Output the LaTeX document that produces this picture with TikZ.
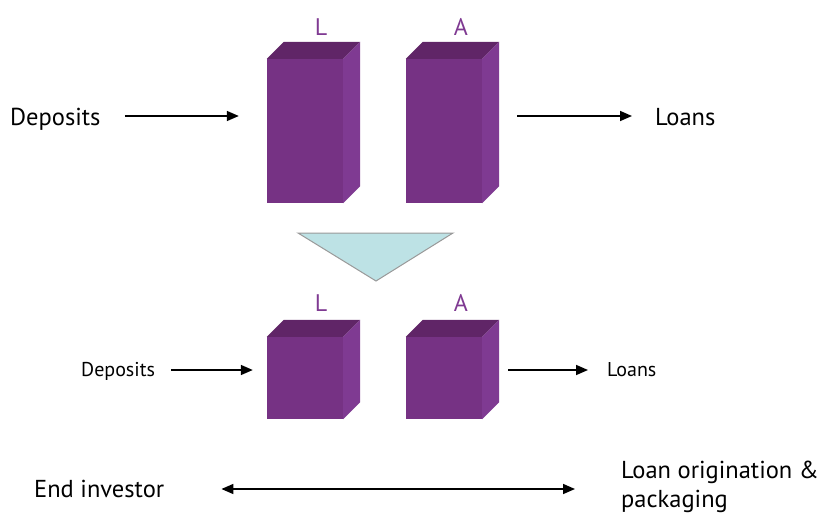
\documentclass[tikz,border=0pt]{standalone}
\usepackage{fontspec}
\setmainfont{PT Sans}
\usepackage{xcolor}
\usepackage{tikz}
\usetikzlibrary{arrows.meta}

\definecolor{boxfront}{HTML}{763284}
\definecolor{boxtop}{HTML}{602567}
\definecolor{boxside}{HTML}{7F3A92}
\definecolor{funnel}{HTML}{BDE2E5}

% front face is the node, top and side faces drawn from its anchors
\newcommand{\bankfaces}[1]{
  \fill[boxtop] (#1.north west) -- ++(17,-17) -- ([shift={(17,-17)}]#1.north east) -- (#1.north east) -- cycle;
  \fill[boxside] (#1.north east) -- ++(17,-17) -- ([shift={(17,-17)}]#1.south east) -- (#1.south east) -- cycle;
}

\begin{document}
\begin{tikzpicture}[x=1pt,y=-1pt]
\tikzstyle{bank}=[rectangle, fill=boxfront, inner sep=0pt, minimum width=76pt]
\tikzstyle{side}=[text=boxside, font=\fontsize{24}{28}\selectfont]
\tikzstyle{big}=[inner sep=0pt, font=\fontsize{24.5}{29}\selectfont]
\tikzstyle{small}=[inner sep=0pt, font=\fontsize{20}{24}\selectfont]
\tikzstyle{arr}=[-{Triangle[length=12pt,width=10pt]}, line width=1.6pt]
\tikzstyle{dblarr}=[{Triangle[length=12pt,width=10pt]}-{Triangle[length=12pt,width=10pt]}, line width=1.6pt]
\useasboundingbox (0,0) rectangle (825,514);

% top: bank
\node[bank, minimum height=144pt] (Ltop) at (305,131) {};
\node[bank, minimum height=144pt] (Atop) at (444,131) {};
\bankfaces{Ltop}
\bankfaces{Atop}
\node[side] (labL) at (321,27) {L};
\node[side] (labA) at (461,27) {A};

\node[big, anchor=base west] (dep) at (10,125) {Deposits};
\node[big, anchor=base west] (loan) at (655,125) {Loans};

% funnel
\filldraw[fill=funnel, draw=black!40, line width=1pt] (298,233) -- (453,233) -- (376,281) -- cycle;

% bottom: smaller bank
\node[bank, minimum height=82pt] (Lbot) at (305,378) {};
\node[bank, minimum height=82pt] (Abot) at (444,378) {};
\bankfaces{Lbot}
\bankfaces{Abot}
\node[side] (labLb) at (321,303) {L};
\node[side] (labAb) at (461,303) {A};

\node[small, anchor=base west] (depb) at (81,376) {Deposits};
\node[small, anchor=base west] (loanb) at (607,376) {Loans};

\node[big, anchor=base west] (inv) at (34,497) {End investor};
\node[big, anchor=base west, align=left] (orig) at (621,507) {Loan origination \&\\packaging};

\draw[arr, shorten <=24pt, shorten >=28pt] ([yshift=9pt]dep.base east) -- ([yshift=9pt]dep.base east -| Ltop.west);
\draw[arr, shorten <=35pt, shorten >=23pt] ([yshift=9pt]loan.base west -| Atop.east) -- ([yshift=9pt]loan.base west);
\draw[arr, shorten <=16pt, shorten >=14pt] ([yshift=6pt]depb.base east) -- ([yshift=6pt]depb.base east -| Lbot.west);
\draw[arr, shorten <=26pt, shorten >=19pt] ([yshift=6pt]loanb.base west -| Abot.east) -- ([yshift=6pt]loanb.base west);
\draw[dblarr, shorten <=57pt, shorten >=46pt] ([yshift=8pt]inv.base east) -- ([yshift=8pt]inv.base east -| orig.west);

\end{tikzpicture}
\end{document}
